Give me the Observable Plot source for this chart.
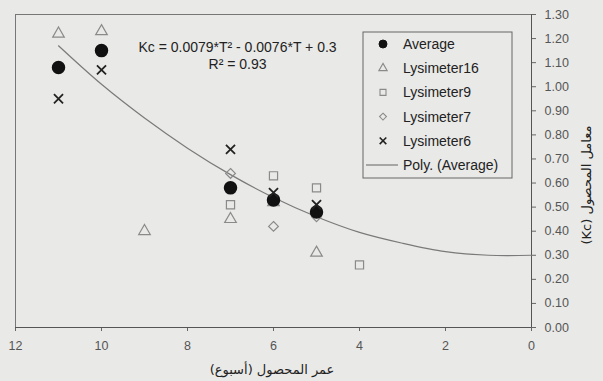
<!DOCTYPE html>
<html>
<head>
<meta charset="utf-8">
<script src="https://cdn.jsdelivr.net/npm/d3@7"></script>
<script src="https://cdn.jsdelivr.net/npm/@observablehq/plot@0.6"></script>
<style>
  html, body { margin: 0; padding: 0; background: #e9e9e7; }
  #chart { position: relative; width: 603px; height: 381px; }
</style>
</head>
<body>
<div id="chart"></div>
<script>
// ---- data ----
const avgWeeks = [11, 10, 7, 6, 5];
const avgKc    = [1.08, 1.15, 0.58, 0.53, 0.48];

const lys16Weeks = [11, 10, 9, 7, 6, 5];
const lys16Kc    = [1.22, 1.23, 0.40, 0.45, 0.52, 0.31];

const lys9Weeks = [7, 6, 5, 4];
const lys9Kc    = [0.51, 0.63, 0.58, 0.26];

const lys7Weeks = [7, 6, 5];
const lys7Kc    = [0.64, 0.42, 0.46];

const lys6Weeks = [11, 10, 7, 6, 5];
const lys6Kc    = [0.95, 1.07, 0.74, 0.56, 0.51];

// polynomial trend of the average
const trendWeeks = [11, 10, 9, 8, 7, 6, 5, 4, 3, 2, 1, 0];
const trendKc    = [1.17, 1.01, 0.87, 0.745, 0.635, 0.54, 0.46, 0.395, 0.35, 0.315, 0.30, 0.30];

const xTicks = [12, 10, 8, 6, 4, 2, 0];
const yTicks = [0, 0.1, 0.2, 0.3, 0.4, 0.5, 0.6, 0.7, 0.8, 0.9, 1.0, 1.1, 1.2, 1.3];

const legendLabels = ["Average", "Lysimeter16", "Lysimeter9", "Lysimeter7", "Lysimeter6", "Poly. (Average)"];
const equationText = "Kc = 0.0079*T\u00B2 - 0.0076*T + 0.3";
const r2Text = "R\u00B2 = 0.93";
const xLabel = "عمر المحصول (أسبوع)";
const yLabel = "معامل المحصول (Kc)";

const toRows = (ws, ks) => ws.map((w, i) => ({week: w, kc: ks[i]}));

const grey = "#8a8a8a";
const chart = Plot.plot({
  width: 603,
  height: 381,
  marginLeft: 15,
  marginRight: 72,
  marginTop: 14,
  marginBottom: 54,
  style: {background: "#e9e9e7", fontFamily: "Liberation Sans, Arial, sans-serif", fontSize: "12px", color: "#555"},
  x: {domain: [12, 0]},
  y: {domain: [0, 1.3]},
  marks: [
    Plot.frame({stroke: "#777", strokeWidth: 1}),
    Plot.axisX({ticks: xTicks, tickSize: 4, tickPadding: 10, tickFormat: d => String(d), label: null, fontSize: 12.5, fill: "#555", stroke: "#666"}),
    Plot.axisY({anchor: "right", ticks: yTicks, tickSize: 4, tickPadding: 9, tickFormat: d3.format(".2f"), label: null, fontSize: 12.5, fill: "#555", stroke: "#666"}),
    Plot.ruleX([0], {stroke: "#555"}),
    Plot.ruleY([0], {stroke: "#555"}),
    Plot.line(toRows(trendWeeks, trendKc), {x: "week", y: "kc", curve: "catmull-rom", stroke: "#7a7a7a", strokeWidth: 1.2}),
    Plot.dot(toRows(lys16Weeks, lys16Kc), {x: "week", y: "kc", symbol: "triangle", r: 4.3, stroke: grey, strokeWidth: 1.2, fill: "none"}),
    Plot.dot(toRows(lys9Weeks, lys9Kc), {x: "week", y: "kc", symbol: "square", r: 4.6, stroke: grey, strokeWidth: 1.2, fill: "none"}),
    Plot.dot(toRows(lys7Weeks, lys7Kc), {x: "week", y: "kc", symbol: "diamond2", r: 4.4, stroke: grey, strokeWidth: 1.2, fill: "none"}),
    Plot.dot(toRows(avgWeeks, avgKc), {x: "week", y: "kc", symbol: "circle", r: 6, fill: "#111", stroke: "#111"}),
    Plot.dot(toRows(lys6Weeks, lys6Kc), {x: "week", y: "kc", symbol: "times", r: 4.2, stroke: "#222", strokeWidth: 1.8}),
    Plot.text([equationText], {frameAnchor: "top-left", dx: 237 - 15, dy: 28, text: d => d, textAnchor: "middle", fontSize: 14, fill: "#222"}),
    Plot.text([r2Text], {frameAnchor: "top-left", dx: 237 - 15, dy: 45, text: d => d, textAnchor: "middle", fontSize: 14, fill: "#222"})
  ]
});
document.getElementById("chart").appendChild(chart);

// axis titles and legend drawn into the same SVG
const svg = d3.select(chart);
const font = "Liberation Sans, Arial, sans-serif";
svg.append("text").attr("x", 272).attr("y", 374).attr("text-anchor", "middle")
  .attr("font-family", "DejaVu Sans, Noto Sans, sans-serif").attr("font-size", 13).attr("fill", "#222")
  .attr("direction", "rtl").text(xLabel);
svg.append("text").attr("transform", "translate(591,185) rotate(-90)").attr("text-anchor", "middle")
  .attr("font-family", "DejaVu Sans, Noto Sans, sans-serif").attr("font-size", 13).attr("fill", "#222")
  .attr("direction", "rtl").text(yLabel);

const lg = svg.append("g");
lg.append("rect").attr("x", 363).attr("y", 32).attr("width", 149).attr("height", 146)
  .attr("fill", "#e9e9e7").attr("stroke", "#666").attr("stroke-width", 1);
const rowY = i => 44 + i * 24.2;
const sym = [
  {type: d3.symbolCircle, size: 50, fill: "#111", stroke: "#111", sw: 1},
  {type: d3.symbolTriangle, size: 30, fill: "none", stroke: grey, sw: 1.1},
  {type: d3.symbolSquare, size: 36, fill: "none", stroke: grey, sw: 1.1},
  {type: d3.symbolDiamond2, size: 30, fill: "none", stroke: grey, sw: 1.1},
  {type: d3.symbolTimes, size: 30, fill: "none", stroke: "#222", sw: 1.6}
];
legendLabels.forEach((lab, i) => {
  if (i < 5) {
    const s = sym[i];
    lg.append("path").attr("d", d3.symbol(s.type, s.size)()).attr("transform", `translate(383,${rowY(i)})`)
      .attr("fill", s.fill).attr("stroke", s.stroke).attr("stroke-width", s.sw);
  } else {
    lg.append("line").attr("x1", 366).attr("x2", 398).attr("y1", rowY(i)).attr("y2", rowY(i))
      .attr("stroke", "#7a7a7a").attr("stroke-width", 1.2);
  }
  lg.append("text").attr("x", 403).attr("y", rowY(i)).attr("dy", "0.35em").attr("text-anchor", "start")
    .attr("font-family", font).attr("font-size", 14).attr("fill", "#222").text(lab);
});
</script>
</body>
</html>
